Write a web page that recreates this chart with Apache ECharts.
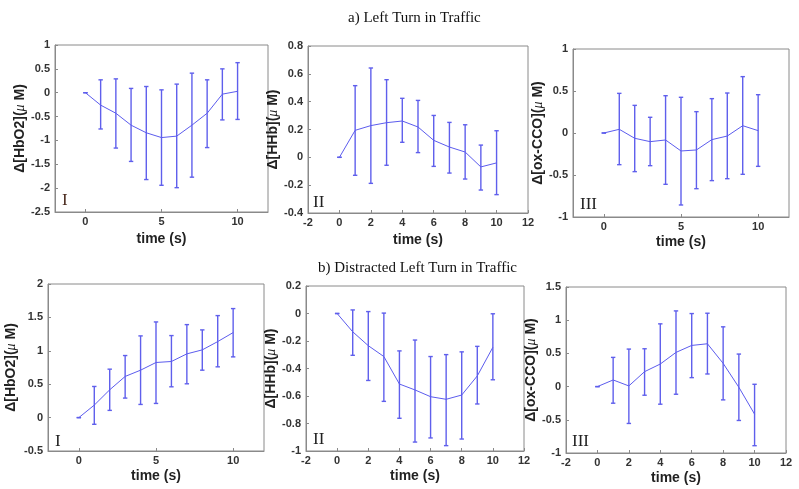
<!DOCTYPE html>
<html>
<head>
<meta charset="utf-8">
<script src="https://cdn.jsdelivr.net/npm/echarts@6/dist/echarts.min.js"></script>
<style>html,body{margin:0;padding:0;background:#fff}#c{width:799px;height:489px}</style>
</head>
<body>
<div id="c"></div>
<script>
// ---- data ----
const time = [0, 1, 2, 3, 4, 5, 6, 7, 8, 9, 10];

const titleA = 'a) Left Turn in Traffic';
const titleB = 'b) Distracted Left Turn in Traffic';
const panelTags = ['I', 'II', 'III', 'I', 'II', 'III'];

// a) Left turn in traffic
const aHbO2Mean  = [0, -0.26, -0.43, -0.68, -0.84, -0.94, -0.91, -0.68, -0.43, -0.03, 0.03];
const aHbO2Upper = [0, 0.27, 0.29, 0.09, 0.13, 0.06, 0.18, 0.41, 0.27, 0.50, 0.63];
const aHbO2Lower = [0, -0.76, -1.16, -1.44, -1.82, -1.94, -1.99, -1.77, -1.15, -0.57, -0.56];

const aHHbMean  = [0, 0.194, 0.228, 0.249, 0.261, 0.218, 0.122, 0.074, 0.038, -0.069, -0.04];
const aHHbUpper = [0, 0.515, 0.642, 0.558, 0.424, 0.409, 0.301, 0.251, 0.234, 0.088, 0.191];
const aHHbLower = [0, -0.129, -0.187, -0.057, 0.108, 0.034, -0.065, -0.113, -0.156, -0.235, -0.268];

const aCCOMean  = [0, 0.044, -0.063, -0.103, -0.083, -0.214, -0.202, -0.079, -0.036, 0.087, 0.028];
const aCCOUpper = [0, 0.472, 0.329, 0.187, 0.444, 0.425, 0.254, 0.409, 0.476, 0.671, 0.456];
const aCCOLower = [0, -0.377, -0.46, -0.389, -0.611, -0.857, -0.663, -0.567, -0.544, -0.492, -0.397];

// b) Distracted left turn in traffic
const bHbO2Mean  = [0, 0.187, 0.416, 0.616, 0.71, 0.825, 0.84, 0.954, 1.014, 1.138, 1.273];
const bHbO2Upper = [0, 0.466, 0.725, 0.929, 1.223, 1.432, 1.228, 1.392, 1.313, 1.527, 1.632];
const bHbO2Lower = [0, -0.10, 0.108, 0.292, 0.197, 0.212, 0.461, 0.506, 0.71, 0.76, 0.909];

const bHHbMean  = [0, -0.133, -0.234, -0.313, -0.513, -0.556, -0.605, -0.624, -0.593, -0.454, -0.246];
const bHHbUpper = [0, 0.026, 0.014, 0.003, -0.272, -0.193, -0.313, -0.299, -0.279, -0.239, -0.002];
const bHHbLower = [0, -0.304, -0.487, -0.639, -0.762, -0.935, -0.905, -0.961, -0.913, -0.658, -0.482];

const bCCOMean  = [0, 0.1, 0.01, 0.225, 0.34, 0.515, 0.62, 0.645, 0.35, -0.01, -0.415];
const bCCOUpper = [0, 0.44, 0.565, 0.57, 0.945, 1.14, 1.1, 1.105, 0.9, 0.49, 0.035];
const bCCOLower = [0, -0.25, -0.555, -0.13, -0.265, -0.115, 0.135, 0.19, -0.2, -0.51, -0.89];

// axis ranges / ticks
const xTicks5 = [0, 5, 10];
const yLabelNames = ['HbO2', 'HHb', 'ox-CCO', 'HbO2', 'HHb', 'ox-CCO'];

// ---- layout ----
const panels = [
  { mean: aHbO2Mean, up: aHbO2Upper, lo: aHbO2Lower, ymin: -2.5, ymax: 1, yint: 0.5, xCustom: xTicks5,
    grid: { left: 55, top: 45, width: 213, height: 167 }, yGap: 27, xGap: 20 },
  { mean: aHHbMean, up: aHHbUpper, lo: aHHbLower, ymin: -0.4, ymax: 0.8, yint: 0.2, xCustom: null,
    grid: { left: 308, top: 46, width: 220, height: 167 }, yGap: 26, xGap: 20 },
  { mean: aCCOMean, up: aCCOUpper, lo: aCCOLower, ymin: -1, ymax: 1, yint: 0.5, xCustom: xTicks5,
    grid: { left: 573, top: 49, width: 216, height: 168 }, yGap: 26, xGap: 18 },
  { mean: bHbO2Mean, up: bHbO2Upper, lo: bHbO2Lower, ymin: -0.5, ymax: 2, yint: 0.5, xCustom: xTicks5,
    grid: { left: 48, top: 284, width: 216, height: 167 }, yGap: 30, xGap: 18 },
  { mean: bHHbMean, up: bHHbUpper, lo: bHHbLower, ymin: -1, ymax: 0.2, yint: 0.2, xCustom: null,
    grid: { left: 306, top: 286, width: 218, height: 165 }, yGap: 24, xGap: 18 },
  { mean: bCCOMean, up: bCCOUpper, lo: bCCOLower, ymin: -1, ymax: 1.5, yint: 0.5, xCustom: null,
    grid: { left: 566, top: 287, width: 220, height: 166 }, yGap: 21, xGap: 18 }
];
const tagPos = [[62, 192], [313, 194], [580, 196], [55, 433], [313, 431], [572, 433]];

const BLUE = '#5f5fec';
const LINE_BLUE = '#5c5cee';
const AXIS_GRAY = '#8a8a8a';
const LABEL_COLOR = '#333';

const grids = [], xAxes = [], yAxes = [], series = [];

panels.forEach((p, i) => {
  grids.push(Object.assign({ show: true, borderColor: AXIS_GRAY, borderWidth: 1, backgroundColor: 'transparent' }, p.grid));
  const xa = {
    type: 'value', gridIndex: i, min: -2, max: 12, interval: 2, position: 'bottom',
    name: 'time (s)', nameLocation: 'middle', nameGap: p.xGap,
    nameTextStyle: { fontFamily: 'Liberation Sans', fontWeight: 'bold', fontSize: 14, color: '#222' },
    axisLine: { show: true, onZero: false, lineStyle: { color: AXIS_GRAY } },
    axisTick: { show: true, inside: true, length: 3, lineStyle: { color: AXIS_GRAY } },
    axisLabel: { fontFamily: 'Liberation Sans', fontWeight: 'bold', fontSize: 11, color: LABEL_COLOR, margin: 4 },
    splitLine: { show: false }
  };
  if (p.xCustom) {
    xa.axisLabel.customValues = p.xCustom;
    xa.axisTick.customValues = p.xCustom;
  }
  xAxes.push(xa);
  yAxes.push({
    type: 'value', gridIndex: i, min: p.ymin, max: p.ymax, interval: p.yint, position: 'left',
    name: '{b|\u0394[' + yLabelNames[i] + '](}{i|\u03bc}{b| M)}', nameLocation: 'middle', nameGap: p.yGap,
    nameTextStyle: {
      rich: {
        b: { fontFamily: 'Liberation Sans', fontWeight: 'bold', fontSize: 14, color: '#222' },
        i: { fontFamily: 'Liberation Serif', fontStyle: 'italic', fontSize: 14, color: '#222' }
      }
    },
    axisLine: { show: true, onZero: false, lineStyle: { color: AXIS_GRAY } },
    axisTick: { show: true, inside: true, length: 3, lineStyle: { color: AXIS_GRAY } },
    axisLabel: { fontFamily: 'Liberation Sans', fontWeight: 'bold', fontSize: 11, color: LABEL_COLOR, margin: 5 },
    splitLine: { show: false }
  });
  series.push({
    type: 'line', xAxisIndex: i, yAxisIndex: i, showSymbol: false, symbol: 'none',
    lineStyle: { color: LINE_BLUE, width: 1 },
    data: time.map((t, k) => [t, p.mean[k]]), silent: true, animation: false, z: 3
  });
  series.push({
    type: 'custom', xAxisIndex: i, yAxisIndex: i, animation: false, silent: true, z: 2,
    encode: { x: 0, y: [1, 2] },
    data: time.map((t, k) => [t, p.lo[k], p.up[k]]),
    renderItem: function (params, api) {
      const x = api.value(0);
      const a = api.coord([x, api.value(1)]);
      const b = api.coord([x, api.value(2)]);
      const w = 2.2;
      const st = { stroke: BLUE, lineWidth: 1.4 };
      return {
        type: 'group',
        children: [
          { type: 'line', shape: { x1: a[0], y1: a[1], x2: b[0], y2: b[1] }, style: st },
          { type: 'line', shape: { x1: a[0] - w, y1: a[1], x2: a[0] + w, y2: a[1] }, style: st },
          { type: 'line', shape: { x1: b[0] - w, y1: b[1], x2: b[0] + w, y2: b[1] }, style: st }
        ]
      };
    }
  });
});

const graphics = panelTags.map((t, i) => ({
  type: 'text', left: tagPos[i][0], top: tagPos[i][1],
  style: { text: t, font: '17px "Liberation Serif"', fill: i === 0 ? '#4a2a1e' : '#222' }
}));

const chart = echarts.init(document.getElementById('c'), null, { renderer: 'canvas' });
chart.setOption({
  backgroundColor: '#fff',
  animation: false,
  title: [
    { text: titleA, left: 343, top: 6, textStyle: { fontFamily: 'Liberation Serif', fontWeight: 'normal', fontSize: 15, color: '#111' } },
    { text: titleB, left: 313, top: 256, textStyle: { fontFamily: 'Liberation Serif', fontWeight: 'normal', fontSize: 15, color: '#111' } }
  ],
  grid: grids,
  xAxis: xAxes,
  yAxis: yAxes,
  series: series,
  graphic: graphics
});
</script>
</body>
</html>
